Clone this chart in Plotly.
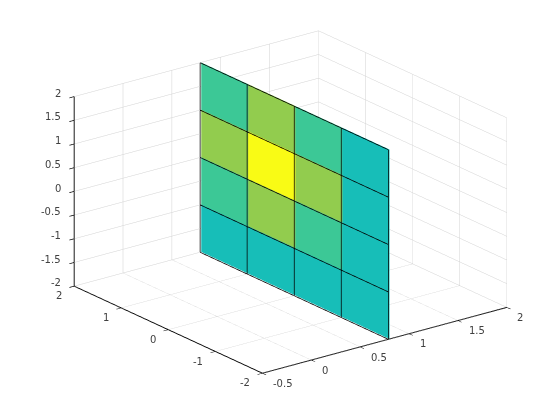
import plotly.graph_objects as go

x_plane = 0.8
line_gap = 0.012
y_edges = [-2, -1, 0, 1, 2]
z_edges = [-2, -1, 0, 1, 2]
# rows run from z low to z high, columns from y low to y high
cell_values = [
    [0.55, 0.55, 0.55, 0.55],
    [0.55, 0.70, 0.85, 0.70],
    [0.55, 0.85, 1.00, 0.85],
    [0.55, 0.70, 0.85, 0.70],
]
x_ticks = [-0.5, 0, 0.5, 1, 1.5, 2]
x_labels = ["-0.5", "0", "0.5", "1", "1.5", "2"]
y_ticks = [-2, -1, 0, 1, 2]
y_labels = ["-2", "-1", "0", "1", "2"]
z_ticks = [-2, -1.5, -1, -0.5, 0, 0.5, 1, 1.5, 2]
z_labels = ["-2", "-1.5", "-1", "-0.5", "0", "0.5", "1", "1.5", "2"]
colorscale = [
    [0.0, "#352A87"], [0.25, "#1481D6"], [0.55, "#17BEB8"],
    [0.70, "#3CC896"], [0.85, "#92CC4E"], [1.0, "#F9FB15"],
]

xs, ys, zs, i, j, k, intensity = [], [], [], [], [], [], []
ny = len(y_edges)
for z in z_edges:
    for y in y_edges:
        xs.append(x_plane); ys.append(y); zs.append(z)
for r, row in enumerate(cell_values):
    for c, v in enumerate(row):
        a = r * ny + c
        b = a + 1
        d = a + ny
        e = d + 1
        i += [a, a]; j += [b, e]; k += [e, d]
        intensity += [v, v]

lx, ly, lz = [], [], []
xl = x_plane - line_gap
for y in y_edges:
    lx += [xl, xl, None]; ly += [y, y, None]; lz += [z_edges[0], z_edges[-1], None]
for z in z_edges:
    lx += [xl, xl, None]; ly += [y_edges[0], y_edges[-1], None]; lz += [z, z, None]

fig = go.Figure()
fig.add_trace(go.Mesh3d(
    x=xs, y=ys, z=zs, i=i, j=j, k=k, intensity=intensity, intensitymode="cell",
    colorscale=colorscale, cmin=0, cmax=1, showscale=False, flatshading=True,
    lighting=dict(ambient=1, diffuse=0, specular=0, roughness=1, fresnel=0),
    hoverinfo="skip",
))
fig.add_trace(go.Scatter3d(x=lx, y=ly, z=lz, mode="lines",
                           line=dict(color="black", width=1.5), hoverinfo="skip", showlegend=False))


def axis(rng, vals):
    return dict(range=rng, tickmode="array", tickvals=vals, title=dict(text=""),
                showticklabels=False,
                showgrid=True, gridcolor="#D2D2D2", gridwidth=1, zeroline=False,
                showline=True, linecolor="black", linewidth=2,
                ticks="outside", ticklen=6, tickcolor="black", tickwidth=1.5,
                showbackground=False, showspikes=False)


label_font = dict(family="DejaVu Sans", size=10, color="#404040")
annotations = []
for v, t in zip(x_ticks, x_labels):
    annotations.append(dict(x=v, y=y_ticks[0], z=z_ticks[0], text=t, showarrow=False, font=label_font,
                            xanchor="left", yanchor="middle", xshift=8, yshift=-10))
for v, t in zip(y_ticks, y_labels):
    annotations.append(dict(x=x_ticks[0], y=v, z=z_ticks[0], text=t, showarrow=False, font=label_font,
                            xanchor="right", yanchor="middle", xshift=-11, yshift=-9.5))
for v, t in zip(z_ticks, z_labels):
    annotations.append(dict(x=x_ticks[0], y=y_ticks[-1], z=v, text=t, showarrow=False, font=label_font,
                            xanchor="right", yanchor="middle", xshift=-11.5, yshift=3.4))

L = 1.316
S = 1.593
fig.update_layout(
    width=560, height=420, margin=dict(l=0, r=0, t=0, b=0),
    paper_bgcolor="white", showlegend=False,
    scene=dict(
        domain=dict(x=[0.0454, 0.9654], y=[0.078, 0.998]),
        xaxis=axis([-0.5, 2], x_ticks),
        yaxis=axis([-2, 2], y_ticks),
        zaxis=axis([-2, 2], z_ticks),
        annotations=annotations,
        aspectmode="manual",
        aspectratio=dict(x=1 * S, y=1.00936 * S, z=0.6589 * S),
        camera=dict(
            projection=dict(type="orthographic"),
            up=dict(x=0, y=0, z=1),
            center=dict(x=0, y=0, z=0),
            eye=dict(x=-0.5676 * L, y=-0.7438 * L, z=0.3529 * L),
        ),
    ),
)
fig.write_html("out.html")
